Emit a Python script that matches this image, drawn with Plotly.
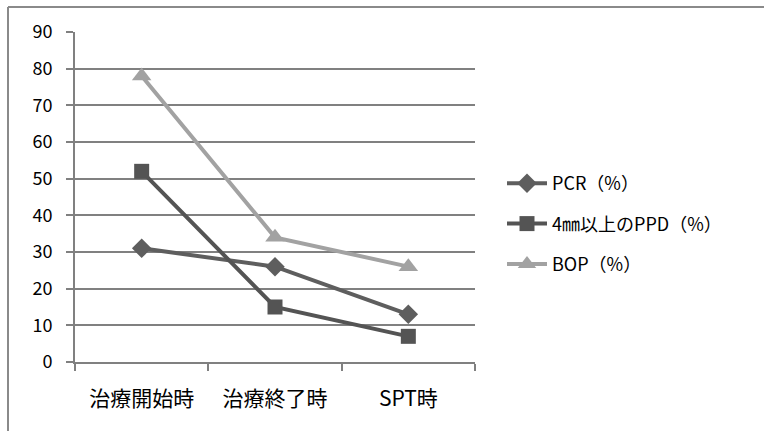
import plotly.graph_objects as go

categories = ["治療開始時", "治療終了時", "SPT時"]
pcr = [31, 26, 13]
ppd = [52, 15, 7]
bop = [78, 34, 26]
series_names = ["PCR（%）", "4㎜以上のPPD（%）", "BOP（%）"]
y_ticks = [0, 10, 20, 30, 40, 50, 60, 70, 80, 90]

FONT = "Noto Sans CJK JP"
fig = go.Figure()
styles = [
    (pcr, "diamond", "#5e5e5e", 15),
    (ppd, "square", "#545454", 15),
    (bop, "triangle-up", "#a2a2a2", 17),
]
for i, (vals, sym, col, sz) in enumerate(styles):
    fig.add_trace(go.Scatter(
        x=categories, y=vals, name=series_names[i], mode="lines+markers",
        line=dict(color=col, width=4),
        marker=dict(symbol=sym, size=sz, color=col),
        legendgroup=str(i),
    ))

W, H = 764, 431
L, R, T, B = 75, 289, 32, 69
pw, ph = W - L - R, H - T - B

def px(x):
    return (x - L) / pw

def py(y):
    return (H - B - y) / ph

fig.update_layout(
    width=W, height=H,
    margin=dict(l=L, r=R, t=T, b=B),
    paper_bgcolor="white", plot_bgcolor="white",
    font=dict(family=FONT, color="#000000", size=18),
    showlegend=True,
    legend=dict(
        x=px(502), y=py(165), xanchor="left", yanchor="top",
        font=dict(family=FONT, size=18, color="#000000"),
        tracegroupgap=14, itemwidth=40,
        bgcolor="rgba(0,0,0,0)",
    ),
    xaxis=dict(
        type="category", range=[-0.5, 2.5],
        showgrid=False, showline=True, linecolor="#808080", linewidth=2,
        ticks="outside", tickson="boundaries", ticklen=7, tickcolor="#808080", tickwidth=2,
        tickfont=dict(family=FONT, size=21, color="#000000"),
        ticklabelstandoff=17,
        zeroline=False,
    ),
    yaxis=dict(
        range=[0, 90], tickvals=y_ticks,
        showgrid=True, gridcolor="#808080", gridwidth=2,
        showline=True, linecolor="#808080", linewidth=2,
        ticks="outside", ticklen=7, tickcolor="#808080", tickwidth=2,
        tickfont=dict(family=FONT, size=18, color="#000000"),
        ticklabelstandoff=10,
        zeroline=False,
    ),
    shapes=[
        dict(type="line", xref="paper", yref="paper",
             x0=px(8), x1=px(764), y0=py(7), y1=py(7),
             line=dict(color="#8a8a8a", width=2)),
        dict(type="line", xref="paper", yref="paper",
             x0=px(8), x1=px(8), y0=py(7), y1=py(431),
             line=dict(color="#8a8a8a", width=2)),
    ],
)

fig.write_html("out.html", config={"displayModeBar": False},
               post_script="document.body.style.margin='0px';")
